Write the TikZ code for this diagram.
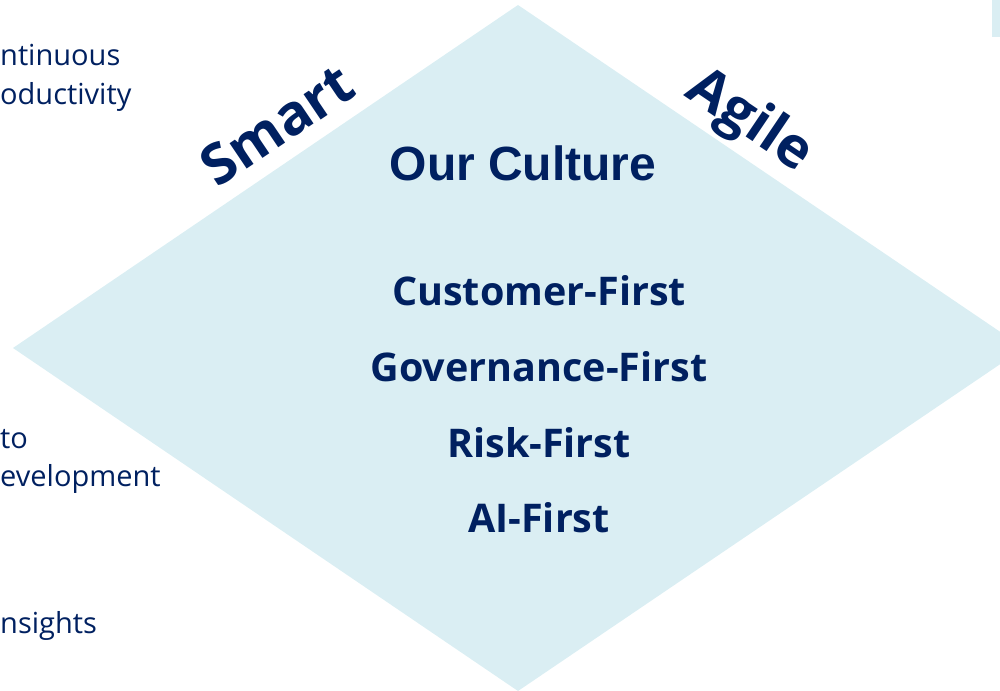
\documentclass[tikz,border=0pt]{standalone}
\usepackage{fontspec}
\setmainfont{Open Sans}
\newfontfamily\arialbold{Liberation Sans}[BoldFont={* Bold}]
\definecolor{navy}{HTML}{002060}
\definecolor{paleblue}{HTML}{DAEEF3}
\begin{document}
\begin{tikzpicture}[x=1pt,y=-1pt,
  side/.style={text=navy,font=\fontsize{29}{34}\selectfont,inner sep=0pt,anchor=base west},
  value/.style={text=navy,font=\fontsize{39.5}{46}\selectfont\bfseries,inner sep=0pt,anchor=base},
  edge label/.style={text=navy,font=\fontsize{56}{60}\selectfont\bfseries,inner sep=0pt}]
\useasboundingbox (0,0) rectangle (1000,690);
\fill[paleblue] (518,5) -- (1024,348) -- (518,691) -- (13,348) -- cycle;
\fill[paleblue] (992,0) rectangle (1000,37);
\node[text=navy,font=\fontsize{48}{54}\selectfont\arialbold\bfseries,inner sep=0pt,anchor=base] (title) at (523,180) {Our Culture};
\node[value] (v1) at (539,305) {Customer-First};
\node[value] (v2) at (539,381) {Governance-First};
\node[value] (v3) at (539,457) {Risk-First};
\node[value] (v4) at (539,532) {AI-First};
\node[edge label,rotate=34] (smart) at (277,125) {Smart};
\node[edge label,rotate=-34] (agile) at (749,122) {Agile};
\node[side] (l1) at (0,66) {ntinuous};
\node[side] (l2) at (0,105) {oductivity};
\node[side] (l3) at (0,448) {to};
\node[side] (l4) at (0,486) {evelopment};
\node[side] (l5) at (0,633) {nsights};
\end{tikzpicture}
\end{document}
